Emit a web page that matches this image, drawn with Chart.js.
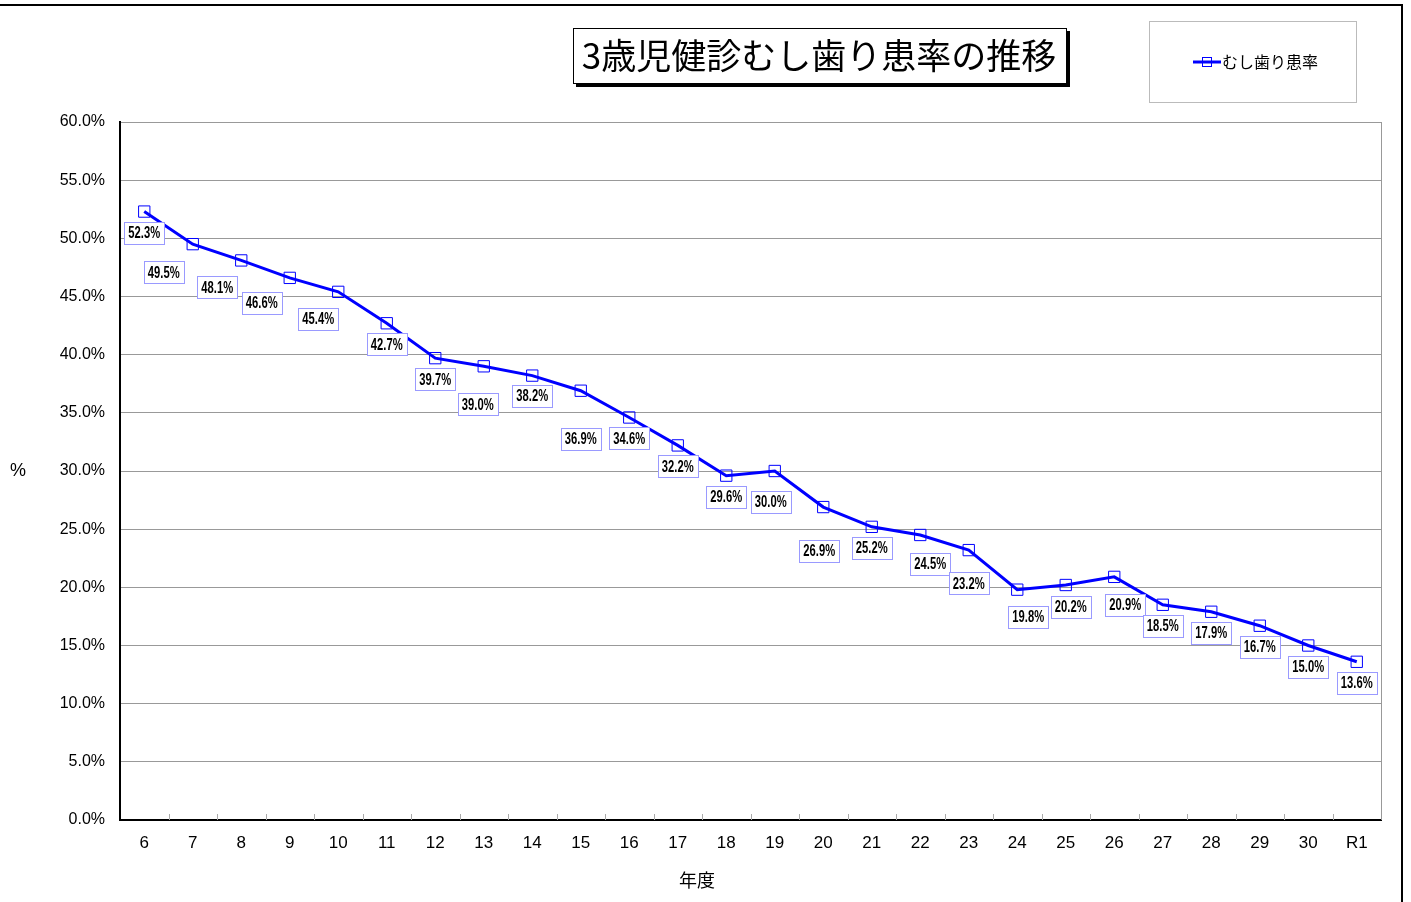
<!DOCTYPE html>
<html><head><meta charset="utf-8">
<script src="https://cdn.jsdelivr.net/npm/chart.js@4"></script>
<style>html,body{margin:0;padding:0;background:#fff;}#wrap{width:1411px;height:902px;position:relative;}</style>
</head><body><div id="wrap"><canvas id="c" width="1411" height="902"></canvas></div>
<script>
const categories = ['6','7','8','9','10','11','12','13','14','15','16','17','18','19','20','21','22','23','24','25','26','27','28','29','30','R1'];
const rates = [52.3,49.5,48.1,46.6,45.4,42.7,39.7,39.0,38.2,36.9,34.6,32.2,29.6,30.0,26.9,25.2,24.5,23.2,19.8,20.2,20.9,18.5,17.9,16.7,15.0,13.6];
const yTicks = [0,5,10,15,20,25,30,35,40,45,50,55,60];
const titleText = '3歳児健診むし歯り患率の推移';
const seriesName = 'むし歯り患率';
const xTitle = '年度';
const yTitle = '%';
// label placement offsets (dx, dy in px from the point)
const labelOffsets = [[0,21],[-29,28],[-24,27],[-28,25],[-20,27],[0,21],[0,21],[-6,38],[0,20],[0,48],[0,21],[0,21],[0,21],[-4,31],[-4,44],[0,21],[10,29],[0,33],[11,27],[5,22],[11,28],[0,21],[0,21],[0,21],[0,21],[0,21]];

const BLUE = '#0000ff';
const JP = '"Noto Sans CJK JP", "Liberation Sans", sans-serif';
const LAT = '"Liberation Sans", Arial, sans-serif';

const decor = {
  id: 'decor',
  beforeDraw(chart) {
    const ctx = chart.ctx;
    ctx.save();
    ctx.fillStyle = '#fff';
    ctx.fillRect(0,0,chart.width,chart.height);
    ctx.restore();
  },
  afterDraw(chart) {
    const ctx = chart.ctx;
    const a = chart.chartArea;
    const xs = chart.scales.x;
    ctx.save();
    ctx.strokeStyle = '#999';
    ctx.lineWidth = 1;
    ctx.beginPath();
    ctx.moveTo(a.right + 0.5, a.top);
    ctx.lineTo(a.right + 0.5, a.bottom);
    ctx.stroke();
    ctx.strokeStyle = '#aaa';
    for (let i = 1; i < categories.length; i++) {
      const x = Math.round((xs.getPixelForValue(i-1) + xs.getPixelForValue(i)) / 2) + 0.5;
      ctx.beginPath();
      ctx.moveTo(x, a.bottom);
      ctx.lineTo(x, a.bottom - 6);
      ctx.stroke();
    }
    ctx.strokeStyle = '#000';
    ctx.lineWidth = 2;
    ctx.beginPath();
    ctx.moveTo(0, 5);
    ctx.lineTo(1402, 5);
    ctx.lineTo(1402, 902);
    ctx.stroke();
    ctx.fillStyle = '#000';
    ctx.fillRect(576, 31, 494, 56);
    ctx.fillStyle = '#fff';
    ctx.fillRect(573, 28, 494, 56);
    ctx.strokeStyle = '#000';
    ctx.lineWidth = 1;
    ctx.strokeRect(573.5, 28.5, 493, 55);
    ctx.fillStyle = '#000';
    ctx.font = '35px ' + JP;
    ctx.textAlign = 'center';
    ctx.textBaseline = 'middle';
    ctx.fillText(titleText, 819, 56);
    ctx.strokeStyle = '#bbb';
    ctx.strokeRect(1149.5, 21.5, 207, 81);
    ctx.strokeStyle = BLUE;
    ctx.lineWidth = 3;
    ctx.beginPath();
    ctx.moveTo(1193, 62); ctx.lineTo(1221, 62); ctx.stroke();
    ctx.lineWidth = 1;
    ctx.strokeRect(1202.5, 57.5, 9, 9);
    ctx.fillStyle = '#000';
    ctx.font = '16px ' + JP;
    ctx.textAlign = 'left';
    ctx.fillText(seriesName, 1222, 62);
    ctx.font = '18px ' + LAT;
    ctx.textAlign = 'center';
    ctx.fillText(yTitle, 18, 471);
    ctx.font = '18px ' + JP;
    ctx.fillText(xTitle, 697, 880);
    ctx.restore();
  },
  afterDatasetsDraw(chart) {
    const ctx = chart.ctx;
    const meta = chart.getDatasetMeta(0);
    ctx.save();
    meta.data.forEach((pt, i) => {
      const [dx, dy] = labelOffsets[i];
      const cx = pt.x + dx, cy = pt.y + dy;
      const txt = rates[i].toFixed(1) + '%';
      ctx.font = 'bold 16px ' + LAT;
      const w = ctx.measureText(txt).width * 0.7;
      const bw = Math.round(w + 8), bh = 22;
      const bx = Math.round(cx - bw/2) + 0.5, by = Math.round(cy - bh/2) + 0.5;
      ctx.fillStyle = '#fff';
      ctx.fillRect(bx, by, bw, bh);
      ctx.strokeStyle = '#9a9aff';
      ctx.lineWidth = 1;
      ctx.strokeRect(bx, by, bw, bh);
      ctx.fillStyle = '#000';
      ctx.textAlign = 'center';
      ctx.textBaseline = 'middle';
      ctx.save();
      ctx.translate(cx, cy + 1);
      ctx.scale(0.7, 1);
      ctx.fillText(txt, 0, 0);
      ctx.restore();
    });
    ctx.restore();
  }
};

new Chart(document.getElementById('c'), {
  type: 'line',
  data: {
    labels: categories,
    datasets: [{
      label: seriesName,
      data: rates,
      borderColor: BLUE,
      borderWidth: 3,
      pointStyle: 'rect',
      pointRadius: 8,
      pointBorderWidth: 1,
      pointBorderColor: BLUE,
      pointBackgroundColor: 'rgba(0,0,0,0)',
      tension: 0
    }]
  },
  plugins: [decor],
  options: {
    responsive: false,
    animation: false,
    devicePixelRatio: 1,
    layout: { padding: { left: 0, top: 122, right: 30, bottom: 0 } },
    plugins: { legend: { display: false }, title: { display: false }, tooltip: { enabled: false } },
    scales: {
      x: {
        type: 'category',
        offset: true,
        grid: { display: false, drawTicks: false },
        border: { color: '#000', width: 2 },
        ticks: { color: '#000', font: { family: LAT, size: 17 }, padding: 13, maxRotation: 0, autoSkip: false },
        afterFit(s) { s.height = 82; }
      },
      y: {
        min: 0, max: 60,
        afterBuildTicks(s) { s.ticks = yTicks.map(v => ({ value: v })); },
        grid: { color: '#999', lineWidth: 1, drawTicks: false },
        border: { color: '#000', width: 2 },
        ticks: { color: '#000', font: { family: LAT, size: 16 }, padding: 15, callback: v => Number(v).toFixed(1) + '%' },
        afterFit(s) { s.width = 120; }
      }
    }
  }
});
</script></body></html>
